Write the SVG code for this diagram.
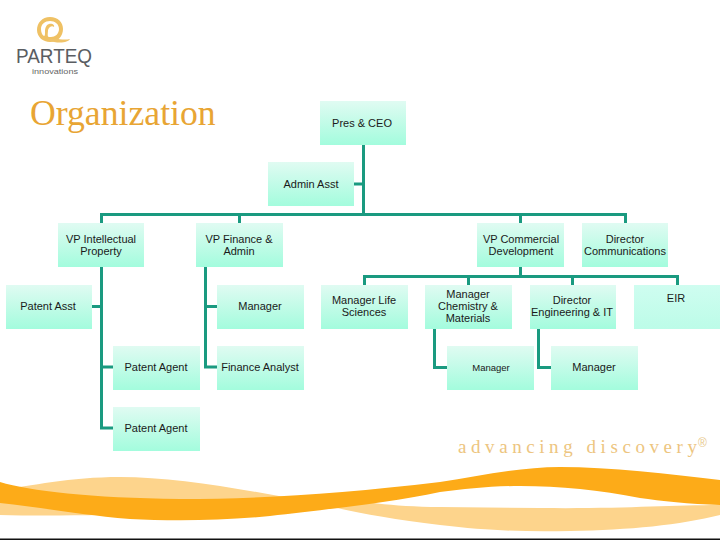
<svg xmlns="http://www.w3.org/2000/svg" width="720" height="540" viewBox="0 0 720 540">
<style>
.n{fill:url(#g)}
.t{font:11px "Liberation Sans",Arial,sans-serif;fill:#1a1a1a;text-anchor:middle}
#connectors path{fill:none;stroke:#1a9a80;stroke-width:3}
</style>
<defs>
<linearGradient id="g" x1="0" y1="0" x2="0" y2="1"><stop offset="0" stop-color="#e0fbf2"/><stop offset="1" stop-color="#a3fcdd"/></linearGradient>
<linearGradient id="g2" x1="0" y1="0" x2="0" y2="1"><stop offset="0" stop-color="#cffdf0"/><stop offset="1" stop-color="#bcfce8"/></linearGradient>
</defs>
<rect width="720" height="540" fill="#fff"/>
<g id="logo">
<path d="M50 17C42 17 37 23 37 30C37 37 43 42 50 42C58 42 63 36 63 29C63 22 58 17 50 17ZM50 21C55 21 59 24 59 29C59 34 55 37 51 37L49 37C47 37 48 33 48 30C49 27 52 25 54 27C55 25 52 23 49 24C46 25 45 28 45 32C45 34 45 36 44 36C42 35 41 32 41 29C41 24 45 21 50 21Z" fill="#efc164"/>
<path d="M48 40C56 37 62 41 70 39C68 43 57 44 48 40Z" fill="#efc36a"/>
<text x="16" y="63" font-family="Liberation Sans,Arial,sans-serif" font-size="20" textLength="76" lengthAdjust="spacingAndGlyphs" fill="#5a5d62">PARTEQ</text>
<text x="32" y="74" font-family="Liberation Sans,Arial,sans-serif" font-size="8" textLength="46" lengthAdjust="spacingAndGlyphs" fill="#666">innovations</text>
</g>
<text id="title" x="30" y="125" font-family="Liberation Serif,serif" font-size="35.700" fill="#e8a534">Organization</text>
<g id="waves">
<path d="M0 490C30 486 70 477 120 477C170 477 230 487 290 498C330 506 370 517 440 525C490 531 530 532 570 531C630 530 680 525 720 515L720 505C670 505 620 509 540 508L440 507C390 507 360 500 330 500L170 512C100 516 40 516 0 515Z" fill="#fdd48c"/>
<path d="M0 482C30 491 90 498 180 499C260 499 340 494 440 482C480 476 520 467 560 467C610 467 670 474 720 480L720 505C690 504 660 501 640 498C600 490 560 486 520 486C490 486 465 489 440 492C390 503 320 510 270 516C220 521 170 521 130 519C80 515 40 507 0 503Z" fill="#fdab18"/>
</g>
<text id="tagline" x="458" y="453" font-family="Liberation Serif,serif" font-size="19" textLength="239" fill="#edc580">advancing discovery</text>
<text id="reg" x="698" y="447" font-family="Liberation Sans,sans-serif" font-size="12" fill="#e8c98c">®</text>
<g id="connectors">
<path d="M363.500 145V214M354 184H363.500M101.500 223V214.500H625.500V223M239.500 214.500V223M520.500 214.500V223"/>
<path d="M520.500 267V276.500M364.500 285V276.500H677.500V285M468.500 276.500V285M572.500 276.500V285"/>
<path d="M101.500 267V428H113M92 306.500H101.500M101.500 367H113"/>
<path d="M205.500 267V367H217M205.500 306.500H217"/>
<path d="M434.500 329V367.500H447M538.500 329V367.500H551"/>
</g>
<g id="pres"><rect class="n" x="320" y="101" width="86" height="44"/><text class="t" x="362" y="127">Pres &amp; CEO</text></g>
<g id="admin"><rect class="n" x="268" y="162" width="86" height="44"/><text class="t" x="311" y="188">Admin Asst</text></g>
<g id="vp-ip"><rect class="n" x="58" y="223" width="86" height="44"/><text class="t" x="101" y="243">VP Intellectual</text><text class="t" x="101" y="255">Property</text></g>
<g id="vp-fin"><rect class="n" x="196" y="223" width="87" height="44"/><text class="t" x="239" y="243">VP Finance &amp;</text><text class="t" x="239" y="255">Admin</text></g>
<g id="vp-com"><rect class="n" x="477" y="223" width="87" height="44"/><text class="t" x="521" y="243">VP Commercial</text><text class="t" x="521" y="255">Development</text></g>
<g id="dir-com"><rect class="n" x="582" y="223" width="86" height="44"/><text class="t" x="625" y="243">Director</text><text class="t" x="625" y="255">Communications</text></g>
<g id="patent-asst"><rect class="n" x="6" y="285" width="86" height="44"/><text class="t" x="48" y="310">Patent Asst</text></g>
<g id="manager-fin"><rect class="n" x="217" y="285" width="87" height="44"/><text class="t" x="260" y="310">Manager</text></g>
<g id="mgr-life"><rect class="n" x="321" y="285" width="87" height="44"/><text class="t" x="364" y="304">Manager Life</text><text class="t" x="364" y="316">Sciences</text></g>
<g id="mgr-chem"><rect class="n" x="425" y="285" width="87" height="44"/><text class="t" x="468" y="298">Manager</text><text class="t" x="468" y="310">Chemistry &amp;</text><text class="t" x="468" y="322">Materials</text></g>
<g id="dir-eng"><rect class="n" x="530" y="285" width="86" height="44"/><text class="t" x="572" y="304">Director</text><text class="t" x="572" y="316">Engineering &amp; IT</text></g>
<g id="eir"><rect x="634" y="285" width="86" height="44" fill="url(#g2)"/><text class="t" x="676" y="302">EIR</text></g>
<g id="agent1"><rect class="n" x="113" y="346" width="87" height="44"/><text class="t" x="156" y="371">Patent Agent</text></g>
<g id="analyst"><rect class="n" x="217" y="346" width="87" height="44"/><text class="t" x="260" y="371">Finance Analyst</text></g>
<g id="mgr-a"><rect class="n" x="447" y="346" width="87" height="44"/><text class="t" x="491" y="371" style="font-size:9.500px">Manager</text></g>
<g id="mgr-b"><rect class="n" x="551" y="346" width="87" height="44"/><text class="t" x="594" y="371">Manager</text></g>
<g id="agent2"><rect class="n" x="113" y="407" width="87" height="44"/><text class="t" x="156" y="432">Patent Agent</text></g>
<rect id="edge" x="0" y="538.500" width="720" height="1.500" fill="#111"/>
</svg>
